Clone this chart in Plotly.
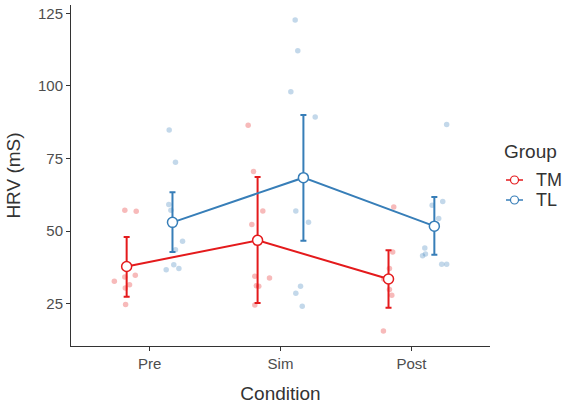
import plotly.graph_objects as go

conditions = ["Pre", "Sim", "Post"]
groups = ["TM", "TL"]

# group means and error bar limits (HRV, mS)
mean_TM = [37.8, 46.8, 33.5]
upper_TM = [48.0, 68.6, 43.4]
lower_TM = [27.4, 25.2, 23.6]
mean_TL = [53.0, 68.4, 51.7]
upper_TL = [63.4, 90.0, 61.7]
lower_TL = [42.8, 46.7, 41.8]

# individual observations
obs_TM = {
    "Pre": [57.2, 56.8, 32.7, 34.2, 34.8, 30.4, 31.5, 24.7],
    "Sim": [86.5, 70.5, 56.9, 52.3, 34.4, 33.8, 31.2, 31.0, 24.5],
    "Post": [58.3, 42.8, 37.1, 33.5, 29.9, 27.9, 15.6],
}
obs_TL = {
    "Pre": [84.8, 73.7, 59.2, 57.2, 46.5, 43.6, 36.7, 38.4, 37.1],
    "Sim": [122.7, 112.1, 98.0, 89.3, 56.9, 53.0, 31.0, 28.6, 24.1],
    "Post": [86.7, 60.2, 58.9, 54.3, 44.2, 41.5, 42.1, 38.6, 38.6],
}
# horizontal jitter of observations (category units, relative to category centre)
jit_TM = {
    "Pre": [-0.189, -0.102, -0.269, -0.189, -0.109, -0.185, -0.153, -0.183],
    "Sim": [-0.247, -0.206, -0.135, -0.219, -0.196, -0.084, -0.185, -0.166, -0.196],
    "Post": [-0.135, -0.143, -0.168, -0.211, -0.168, -0.150, -0.214],
}
jit_TL = {
    "Pre": [0.150, 0.198, 0.147, 0.163, 0.252, 0.198, 0.127, 0.185, 0.224],
    "Sim": [0.112, 0.132, 0.079, 0.265, 0.117, 0.214, 0.153, 0.117, 0.166],
    "Post": [0.269, 0.239, 0.158, 0.208, 0.102, 0.085, 0.107, 0.231, 0.269],
}

RED = "#E41A1C"
BLUE = "#377EB8"
DODGE = 0.175
FONT = "Liberation Sans, Arial, sans-serif"

W, H = 567, 405
ML, MR, MT, MB = 71, 77, 5, 59
PW, PH = W - ML - MR, H - MT - MB


def px_x(px):
    return (px - ML) / PW


def px_y(py):
    return (H - MB - py) / PH


fig = go.Figure()

for obs, jit, col in [(obs_TM, jit_TM, RED), (obs_TL, jit_TL, BLUE)]:
    xs, ys = [], []
    for i, c in enumerate(conditions):
        for v, j in zip(obs[c], jit[c]):
            xs.append(i + 1 + j)
            ys.append(v)
    fig.add_trace(go.Scatter(
        x=xs, y=ys, mode="markers", showlegend=False, hoverinfo="skip",
        marker=dict(color=col, opacity=0.3, size=5.5, line=dict(width=0)),
    ))

for name, mean, up, lo, col, off in [
    ("TM", mean_TM, upper_TM, lower_TM, RED, -DODGE),
    ("TL", mean_TL, upper_TL, lower_TL, BLUE, DODGE),
]:
    fig.add_trace(go.Scatter(
        x=[i + 1 + off for i in range(len(conditions))], y=mean,
        mode="lines+markers", name=name, showlegend=False,
        line=dict(color=col, width=2),
        marker=dict(symbol="circle", size=10, color="white",
                    line=dict(color=col, width=1.5)),
        error_y=dict(type="data", symmetric=False,
                     array=[u - m for u, m in zip(up, mean)],
                     arrayminus=[m - l for m, l in zip(mean, lo)],
                     color=col, thickness=2, width=3),
    ))

# manual legend (ggplot-like compact keys)
shapes = []
annotations = [dict(
    text="Group", xref="paper", yref="paper", x=px_x(502), y=px_y(152),
    xanchor="left", yanchor="middle", showarrow=False,
    font=dict(family=FONT, size=19, color="#333333"),
)]
for k, (name, col) in enumerate(zip(groups, [RED, BLUE])):
    yk = px_y(180 + 20 * k)
    shapes.append(dict(type="line", xref="paper", yref="paper",
                       x0=px_x(506), x1=px_x(523), y0=yk, y1=yk,
                       line=dict(color=col, width=1.5)))
    shapes.append(dict(type="circle", xref="paper", yref="paper",
                       xsizemode="pixel", ysizemode="pixel",
                       xanchor=px_x(514.5), yanchor=yk,
                       x0=-4, x1=4, y0=-4, y1=4,
                       fillcolor="white", line=dict(color=col, width=1.2)))
    annotations.append(dict(
        text=name, xref="paper", yref="paper", x=px_x(534), y=yk,
        xanchor="left", yanchor="middle", showarrow=False,
        font=dict(family=FONT, size=18, color="#333333"),
    ))

axis_common = dict(
    showline=True, linecolor="#333333", linewidth=1, ticks="outside",
    ticklen=4, tickcolor="#333333", showgrid=False, zeroline=False,
    tickfont=dict(family=FONT, size=15, color="#4D4D4D"),
)

fig.update_layout(
    width=W, height=H,
    margin=dict(l=ML, r=MR, t=MT, b=MB, autoexpand=False),
    plot_bgcolor="white", paper_bgcolor="white",
    font=dict(family=FONT),
    showlegend=False,
    shapes=shapes, annotations=annotations,
    xaxis=dict(
        range=[0.4, 3.6], tickmode="array", tickvals=[1, 2, 3],
        ticktext=conditions,
        title=dict(text="Condition", font=dict(family=FONT, size=19, color="#333333"), standoff=15),
        **axis_common,
    ),
    yaxis=dict(
        range=[10.4, 127.9], tickmode="array", tickvals=[25, 50, 75, 100, 125],
        title=dict(text="HRV (mS)", font=dict(family=FONT, size=19, color="#333333"), standoff=12),
        **axis_common,
    ),
)

fig.write_html("out.html")
